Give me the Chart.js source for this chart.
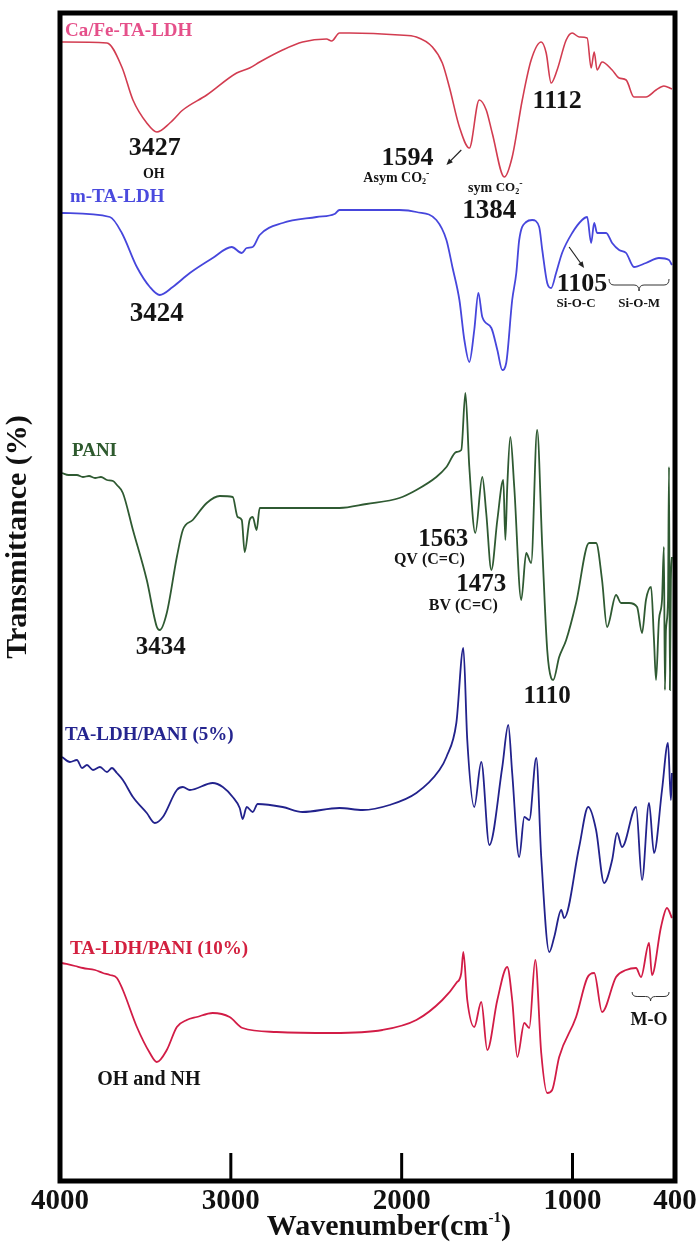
<!DOCTYPE html>
<html>
<head>
<meta charset="utf-8">
<script src="https://cdn.jsdelivr.net/npm/chart.js@4.4.1/dist/chart.umd.min.js"></script>
<style>
  html, body { margin: 0; padding: 0; background: #ffffff; }
  #wrap { width: 696px; height: 1245px; }
</style>
</head>
<body>
<div id="wrap"><canvas id="c" width="696" height="1245"></canvas></div>
<script>
// ---------- data (wavenumber in cm-1, transmittance in offset arbitrary units) ----------
const xTickValues = [4000, 3000, 2000, 1000, 400];
const seriesNames = ['Ca/Fe-TA-LDH', 'm-TA-LDH', 'PANI', 'TA-LDH/PANI (5%)', 'TA-LDH/PANI (10%)'];

const caFeWn = [3988,3725,3638,3573,3492,3433,3357,3281,3141,2966,2890,2831,2697,2580,2440,2410,2364,2305,2013,1914,1820,1762,1721,1662,1604,1546,1505,1470,1399,1353,1294,1242,1183,1154,1125,1090,1037,1002,961,914,891,873,856,827,768,727,686,640,570,511,465,418];
const caFeT  = [113.9,113.8,111.4,108.1,105.8,104.9,105.8,107.1,108.6,110.8,111.3,111.9,113.1,113.9,114.2,114.0,114.8,114.8,114.6,114.4,113.4,111.8,109.4,105.4,103.3,108.1,107.1,104.8,100.4,102.4,108.1,112.1,113.9,112.8,109.8,111.1,114.1,114.8,114.4,114.3,111.3,112.9,111.1,111.9,111.1,110.3,110.1,108.4,108.4,109.1,109.5,109.2];

const mLdhWn = [3988,3708,3638,3550,3474,3416,3340,3240,3106,2995,2936,2907,2872,2831,2697,2498,2393,2364,2013,1914,1797,1738,1703,1662,1633,1604,1575,1551,1528,1475,1440,1411,1388,1353,1329,1312,1271,1236,1195,1177,1148,1125,1096,1061,1002,944,914,891,873,856,803,768,727,686,640,570,494,435,418];
const mLdhT  = [96.8,96.4,94.8,91.4,89.4,88.6,89.4,90.8,92.3,93.4,92.8,93.3,93.4,94.6,95.8,96.4,96.7,97.1,97.1,96.9,96.1,94.1,91.4,88.1,84.1,81.9,85.1,88.8,86.4,85.3,83.1,81.1,81.8,88.1,90.8,94.1,95.9,96.1,95.4,93.1,89.8,89.3,90.8,92.8,94.8,96.1,96.4,93.8,95.8,94.8,94.8,93.8,93.1,92.8,91.4,91.8,92.3,92.1,91.6];

const paniWn = [3988,3950,3901,3866,3830,3795,3760,3725,3690,3667,3632,3573,3492,3433,3416,3375,3316,3281,3223,3141,3065,2989,2960,2936,2919,2890,2872,2849,2831,2697,2498,2364,2206,2013,1914,1797,1738,1680,1651,1627,1604,1569,1528,1505,1475,1440,1405,1393,1382,1364,1341,1300,1271,1242,1207,1177,1148,1125,1113,1078,1037,979,903,862,827,798,745,716,669,622,593,570,540,523,511,494,476,465,459,453,441,435,430,424,418];
const paniT  = [70.8,70.6,70.6,70.4,70.5,70.3,70.4,70.1,70.0,69.6,68.8,65.1,60.1,55.4,55.1,56.8,62.4,65.1,66.1,67.8,68.5,68.4,66.4,66.1,62.9,66.1,66.4,65.1,67.3,67.3,67.3,67.3,67.7,68.3,69.1,70.4,71.4,72.9,73.1,78.8,71.4,64.8,70.4,66.8,61.1,66.1,70.1,64.1,69.4,74.4,69.4,58.1,62.8,61.8,75.1,63.4,53.1,50.3,50.1,52.4,54.1,57.8,63.8,63.8,60.1,55.4,58.6,57.8,57.8,57.4,54.8,58.1,59.4,54.1,50.1,56.1,58.1,63.4,49.1,55.1,58.1,71.4,49.1,60.1,62.4];

const pani5Wn = [3988,3942,3901,3871,3842,3807,3766,3725,3696,3667,3632,3573,3492,3445,3398,3316,3281,3240,3106,3047,2989,2948,2931,2907,2872,2843,2697,2580,2364,2229,2071,1914,1779,1738,1680,1639,1616,1575,1534,1487,1411,1376,1353,1312,1282,1253,1212,1183,1136,1107,1066,1049,961,908,862,815,768,739,710,628,593,552,523,476,441,424,418];
const pani5T  = [42.4,41.9,42.1,41.3,41.6,41.1,41.4,40.9,41.3,40.8,40.1,38.4,36.8,35.8,36.4,39.1,39.4,39.1,39.8,39.4,38.4,37.3,36.2,37.4,36.9,37.7,37.4,36.9,37.3,37.1,37.6,38.8,41.1,42.4,45.8,53.3,44.1,37.4,41.9,33.6,41.4,45.6,40.8,32.4,36.4,36.1,42.3,32.4,22.9,24.4,27.1,26.3,33.4,37.4,35.1,29.8,32.1,34.8,33.4,37.4,30.1,37.8,32.8,39.1,43.8,38.1,40.8];

const pani10Wn = [3988,3912,3866,3795,3749,3708,3667,3632,3550,3474,3433,3375,3316,3258,3199,3106,3007,2931,2732,2405,2112,1914,1762,1680,1651,1639,1616,1575,1534,1499,1440,1382,1353,1323,1282,1253,1218,1183,1148,1119,1078,979,914,873,827,745,686,628,599,552,535,482,447,418];
const pani10T  = [21.8,21.5,21.3,21.1,20.8,20.6,20.3,19.1,15.4,12.8,11.9,13.1,15.4,16.1,16.4,16.8,16.4,15.3,14.9,14.8,15.1,16.1,18.1,19.8,20.8,22.9,18.1,15.4,17.9,13.1,18.1,21.4,18.1,12.4,15.8,15.3,22.1,12.8,8.8,9.1,12.4,16.4,20.3,20.8,16.9,20.4,21.1,21.3,20.4,23.8,20.6,25.4,27.3,26.3];

// ---------- styling ----------
const SERIF = '"Liberation Serif","Times New Roman",Times,serif';
const curveColors = ['#d23c50', '#4646dc', '#2f5a32', '#22228c', '#d21c46'];
const labelColors = ['#e5508a', '#4a4ade', '#2e5a2e', '#25258f', '#d3203f'];

function zip(wn, t) {
  const n = Math.min(wn.length, t.length);
  const out = [];
  for (let i = 0; i < n; i++) out.push({ x: wn[i], y: t[i] });
  return out;
}
const seriesData = [zip(caFeWn, caFeT), zip(mLdhWn, mLdhT), zip(paniWn, paniT), zip(pani5Wn, pani5T), zip(pani10Wn, pani10T)];

// annotation texts anchored in data coordinates (wavenumber, transmittance)
const seriesLabelAnchors = [[3971, 115.0], [3942, 98.4], [3930, 73.0], [3971, 44.6], [3942, 23.2]];
const peakNotes = [
  { parts: [['3427']], at: [3445, 103.3], size: 26 },
  { parts: [['OH']], at: [3451, 100.7], size: 14 },
  { parts: [['1594']], at: [1966, 102.3], size: 26 },
  { parts: [['Asym CO'], ['2', 0.6, 0.3], ['-', 0.7, -0.3]], at: [2031, 100.3], size: 14 },
  { parts: [['sym '], ['CO', 0.9], ['2', 0.6, 0.3], ['-', 0.7, -0.3]], at: [1452, 99.3], size: 14 },
  { parts: [['1384']], at: [1487, 97.0], size: 27 },
  { parts: [['1112']], at: [1090, 108.0], size: 26 },
  { parts: [['1105']], at: [944, 89.7], size: 26 },
  { parts: [['Si-O-C']], at: [979, 87.7], size: 13 },
  { parts: [['Si-O-M']], at: [610, 87.7], size: 13 },
  { parts: [['3424']], at: [3433, 86.7], size: 27 },
  { parts: [['1563']], at: [1756, 64.1], size: 25 },
  { parts: [['QV (C=C)']], at: [1838, 62.1], size: 16 },
  { parts: [['1473']], at: [1534, 59.6], size: 25 },
  { parts: [['BV (C=C)']], at: [1639, 57.5], size: 16 },
  { parts: [['3434']], at: [3410, 53.3], size: 25 },
  { parts: [['1110']], at: [1148, 48.4], size: 25 },
  { parts: [['OH and NH']], at: [3480, 10.1], size: 20 },
  { parts: [['M-O']], at: [552, 16.1], size: 18 }
];
const arrows = [
  { from: [1651, 103.1], to: [1738, 101.6] },
  { from: [1020, 93.4], to: [932, 91.3] }
];
const braces = [
  { wn: [786, 435], t: [90.2, 89.0] },
  { wn: [651, 435], t: [18.9, 18.0] }
];
const yTitleAt = 64.4;
const xTitleAtWn = 2075;
const xTitleParts = [['Wavenumber(cm'], ['-1', 0.5, -0.3], [')']];

function drawRich(ctx, x, y, parts, size, color, align) {
  ctx.save();
  ctx.fillStyle = color;
  ctx.textBaseline = 'middle';
  ctx.textAlign = 'left';
  const fonts = parts.map(p => 'bold ' + Math.round(size * (p[1] || 1)) + 'px ' + SERIF);
  const widths = parts.map((p, i) => { ctx.font = fonts[i]; return ctx.measureText(p[0]).width; });
  const total = widths.reduce((a, b) => a + b, 0);
  let cx = align === 'left' ? x : x - total / 2;
  parts.forEach((p, i) => {
    ctx.font = fonts[i];
    ctx.fillText(p[0], cx, y + (p[2] || 0) * size);
    cx += widths[i];
  });
  ctx.restore();
}

const decorPlugin = {
  id: 'decor',
  afterDraw(chart) {
    const ctx = chart.ctx;
    const xs = chart.scales.x, ys = chart.scales.y;
    const a = chart.chartArea;
    const px = v => xs.getPixelForValue(v);
    const py = v => ys.getPixelForValue(v);

    // frame
    ctx.save();
    ctx.strokeStyle = '#000';
    ctx.lineWidth = 5;
    ctx.strokeRect(a.left, a.top, a.right - a.left, a.bottom - a.top);
    // inward tick marks
    ctx.lineWidth = 3;
    xTickValues.forEach(v => {
      if (v === xs.min || v === xs.max) return;
      const x = px(v);
      ctx.beginPath();
      ctx.moveTo(x, a.bottom);
      ctx.lineTo(x, a.bottom - 28);
      ctx.stroke();
    });
    ctx.restore();

    // series labels
    seriesNames.forEach((name, i) => {
      const [w, t] = seriesLabelAnchors[i];
      drawRich(ctx, px(w), py(t), [[name]], 19, labelColors[i], 'left');
    });

    // peak notes
    peakNotes.forEach(n => drawRich(ctx, px(n.at[0]), py(n.at[1]), n.parts, n.size, '#141414', 'center'));

    // arrows
    ctx.save();
    ctx.strokeStyle = '#222';
    ctx.fillStyle = '#222';
    ctx.lineWidth = 1.2;
    arrows.forEach(ar => {
      const x1 = px(ar.from[0]), y1 = py(ar.from[1]);
      const x2 = px(ar.to[0]), y2 = py(ar.to[1]);
      const ang = Math.atan2(y2 - y1, x2 - x1);
      ctx.beginPath();
      ctx.moveTo(x1, y1);
      ctx.lineTo(x2 - 4 * Math.cos(ang), y2 - 4 * Math.sin(ang));
      ctx.stroke();
      ctx.beginPath();
      ctx.moveTo(x2, y2);
      ctx.lineTo(x2 - 7 * Math.cos(ang - 0.4), y2 - 7 * Math.sin(ang - 0.4));
      ctx.lineTo(x2 - 7 * Math.cos(ang + 0.4), y2 - 7 * Math.sin(ang + 0.4));
      ctx.closePath();
      ctx.fill();
    });
    ctx.restore();

    // under-braces
    ctx.save();
    ctx.strokeStyle = '#333';
    ctx.lineWidth = 1;
    braces.forEach(b => {
      const x1 = px(b.wn[0]), x2 = px(b.wn[1]);
      const yt = py(b.t[0]), yb = py(b.t[1]);
      const ym = (yt + yb) / 2;
      const xm = (x1 + x2) / 2;
      const r = Math.min(5, (x2 - x1) / 6);
      ctx.beginPath();
      ctx.moveTo(x1, yt);
      ctx.quadraticCurveTo(x1, ym, x1 + r, ym);
      ctx.lineTo(xm - r, ym);
      ctx.quadraticCurveTo(xm, ym, xm, yb);
      ctx.quadraticCurveTo(xm, ym, xm + r, ym);
      ctx.lineTo(x2 - r, ym);
      ctx.quadraticCurveTo(x2, ym, x2, yt);
      ctx.stroke();
    });
    ctx.restore();

    // x-axis title with real superscript
    drawRich(ctx, px(xTitleAtWn), a.bottom + 46, xTitleParts, 30, '#111', 'center');

    // y-axis title
    ctx.save();
    ctx.translate(a.left - 42, py(yTitleAt));
    ctx.rotate(-Math.PI / 2);
    ctx.fillStyle = '#111';
    ctx.font = 'bold 30px ' + SERIF;
    ctx.textAlign = 'center';
    ctx.textBaseline = 'middle';
    ctx.fillText('Transmittance (%)', 0, 0);
    ctx.restore();
  }
};

new Chart(document.getElementById('c'), {
  type: 'line',
  data: {
    datasets: seriesNames.map((name, i) => ({
      label: name,
      data: seriesData[i],
      borderColor: curveColors[i],
      backgroundColor: curveColors[i],
      borderWidth: i === 0 ? 1.6 : 1.8,
      pointRadius: 0,
      cubicInterpolationMode: 'monotone',
      fill: false
    }))
  },
  options: {
    responsive: false,
    animation: false,
    devicePixelRatio: 1,
    layout: { padding: { left: 60, right: 21, top: 13, bottom: 0 } },
    plugins: { legend: { display: false }, tooltip: { enabled: false } },
    scales: {
      x: {
        type: 'linear',
        reverse: true,
        min: 400,
        max: 4000,
        grid: { display: false, drawTicks: false },
        border: { display: false },
        afterBuildTicks: s => { s.ticks = xTickValues.map(v => ({ value: v })); },
        afterFit: s => { s.height = 64; s.paddingLeft = 0; s.paddingRight = 0; },
        ticks: {
          autoSkip: false,
          maxRotation: 0,
          padding: 3,
          color: '#111',
          font: { family: SERIF, size: 29, weight: 'bold' },
          callback: v => String(v)
        },
        title: { display: false, text: 'Wavenumber(cm-1)' }
      },
      y: {
        type: 'linear',
        display: false,
        min: 0,
        max: 116.8
      }
    }
  },
  plugins: [decorPlugin]
});
</script>
</body>
</html>
